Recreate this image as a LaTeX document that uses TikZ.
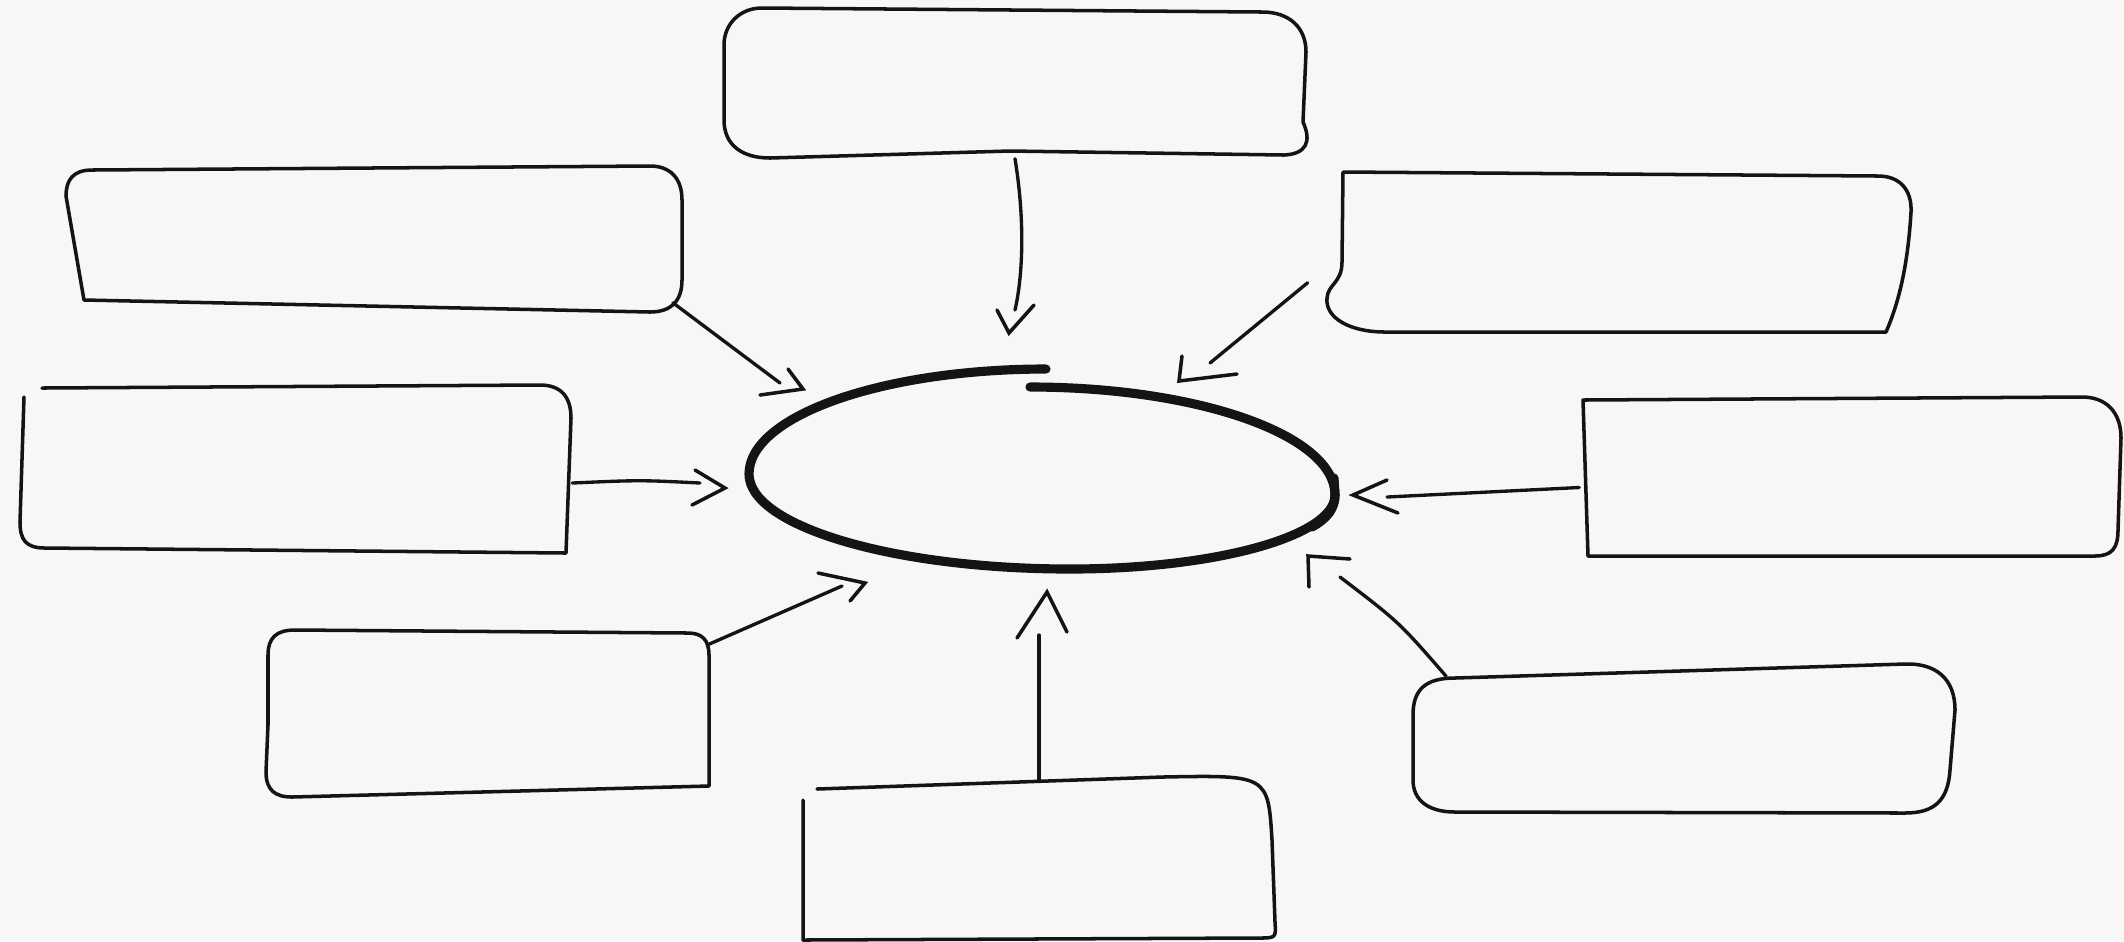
\documentclass[tikz,border=0pt]{standalone}
\usetikzlibrary{calc}
\definecolor{bg}{HTML}{F7F7F7}
\definecolor{ink}{HTML}{141414}
\begin{document}
\begin{tikzpicture}[x=0.01cm,y=-0.01cm,
  holder/.style={draw=none, inner sep=0pt},
  outline/.style={draw=ink, line width=1pt, line join=round, line cap=round},
  conn/.style={draw=ink, line width=0.95pt, line cap=round},
  chev/.style={draw=ink, line width=1pt, line cap=round, line join=miter},
  ring/.style={draw=ink, line width=2.6pt, line cap=round, line join=round}]
\fill[bg] (0,0) rectangle (2124,941);
\useasboundingbox (0,0) rectangle (2124,941);

% box nodes (names and anchors)
\node[holder, minimum width=5.82cm, minimum height=1.5cm]  (T)  at (1015,83)    {};
\node[holder, minimum width=6.18cm, minimum height=1.46cm] (UL) at (373,239)    {};
\node[holder, minimum width=5.85cm, minimum height=1.6cm]  (UR) at (1620,252)   {};
\node[holder, minimum width=5.51cm, minimum height=1.68cm] (L)  at (296,469)    {};
\node[holder, minimum width=5.38cm, minimum height=1.59cm] (R)  at (1852,476.5) {};
\node[holder, minimum width=4.43cm, minimum height=1.67cm] (LL) at (487.5,713.5){};
\node[holder, minimum width=5.42cm, minimum height=1.49cm] (LR) at (1684,738.5) {};
\node[holder, minimum width=4.72cm, minimum height=1.6cm]  (B)  at (1039,860)   {};

% hand-drawn outlines of the boxes
\draw[outline] (724,45) .. controls (724,24) and (740,8) .. (762,8) -- (1262,12)
  .. controls (1290,12) and (1306,28) .. (1306,52) -- (1303,122)
  .. controls (1312,142) and (1306,154) .. (1284,155) -- (1010,151) -- (770,158)
  .. controls (742,158) and (724,145) .. (724,120) -- cycle;
\draw[outline] (66,196) .. controls (66,180) and (73,170) .. (92,170) -- (650,166)
  .. controls (670,166) and (682,178) .. (682,200) -- (682,280)
  .. controls (682,300) and (672,312) .. (650,312) -- (84,300) -- cycle;
\draw[outline] (1343,172) -- (1878,176) .. controls (1900,176) and (1912,190) .. (1911,212)
  .. controls (1908,262) and (1900,300) .. (1886,332) -- (1385,332)
  .. controls (1350,332) and (1325,318) .. (1327,298)
  .. controls (1328,284) and (1342,283) .. (1342,262) -- cycle;
\draw[outline] (24,397) -- (20,522) .. controls (20,540) and (26,548) .. (45,548) -- (566,553)
  -- (571,418) .. controls (571,398) and (562,385) .. (540,385) -- (42,388);
\draw[outline] (1583,400) -- (2082,397) .. controls (2106,397) and (2121,412) .. (2121,438)
  -- (2118,530) .. controls (2118,548) and (2112,556) .. (2095,556) -- (1588,556) -- cycle;
\draw[outline] (268,655) .. controls (268,638) and (276,630) .. (295,630) -- (688,633)
  .. controls (702,633) and (709,640) .. (709,655) -- (709,786) -- (292,797)
  .. controls (275,797) and (266,790) .. (266,772) -- (268,725) -- cycle;
\draw[outline] (1413,715) .. controls (1413,690) and (1425,678) .. (1455,678) -- (1905,664)
  .. controls (1935,663) and (1955,678) .. (1955,710) -- (1950,770)
  .. controls (1948,800) and (1935,813) .. (1905,813) -- (1455,812)
  .. controls (1428,812) and (1413,800) .. (1413,780) -- cycle;
\draw[outline] (817,789) -- (1163,777) .. controls (1268,775) .. (1272,840)
  -- (1275,922) .. controls (1276,938) .. (1258,938) -- (803,940) -- (803,800);

% central ring (two hand-drawn strokes)
\coordinate (C) at (1042,474);
\draw[ring] (1046,369) .. controls (882,369) and (749,416) .. (749,474)
  .. controls (749,526) and (893,569) .. (1070,569)
  .. controls (1216,569) and (1335,536) .. (1335,495)
  .. controls (1335,487) .. (1334,478);
\draw[ring] (1030,387) .. controls (1198,387) and (1335,435) .. (1335,495)
  .. controls (1335,508) and (1328,518) .. (1312,527);

% connector ends
\coordinate (eT)  at (1015,310);
\coordinate (eUL) at (780,383);
\coordinate (eUR) at (1210,363);
\coordinate (eL)  at (700,483);
\coordinate (eR)  at (1387,497);
\coordinate (eLL) at (842,586);
\coordinate (eLR) at (1340,577);
\coordinate (eB)  at (1039,635);

% connectors
\draw[conn] (T.south) .. controls (1025,220) and (1023,275) .. (eT);
\draw[conn] ([shift={(-10,-10)}]UL.south east) -- (eUL);
\draw[conn] ([shift={(-19,-50)}]UR.south west) -- (eUR);
\draw[conn] ([shift={(0,14)}]L.east) .. controls (640,480) .. (eL);
\draw[conn] ([shift={(-3,11)}]R.west) -- (eR);
\draw[conn] ([shift={(-1,15)}]LL.north east) -- (eLL);
\draw[conn] ([shift={(34,13)}]LR.north west) .. controls (1399,622) .. (eLR);
\draw[conn] (B.north) -- (eB);

% open arrowheads (detached chevrons)
\draw[chev] (997,310) -- (1009,333) -- (1034,305);
\draw[chev] (788,369) -- (803,389) -- (760,395);
\draw[chev] (1182,356) -- (1179,381) -- (1237,374);
\draw[chev] (695,470) -- (725,488) -- (692,505);
\draw[chev] (1387,480) -- (1353,495) -- (1398,513);
\draw[chev] (818,573) -- (865,583) -- (850,601);
\draw[chev] (1350,559) -- (1308,556) -- (1309,587);
\draw[chev] (1017,638) -- (1047,592) -- (1067,632);
\end{tikzpicture}
\end{document}
